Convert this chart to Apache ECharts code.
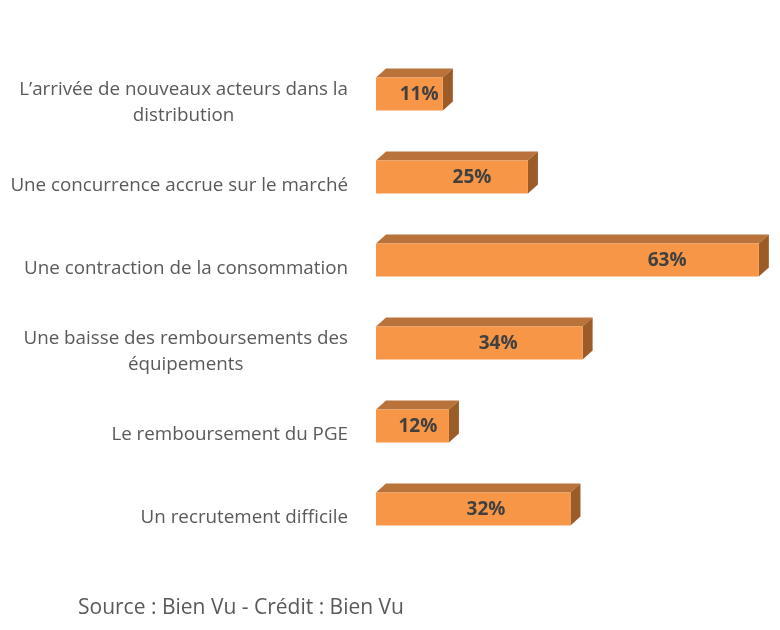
<!DOCTYPE html>
<html><head><meta charset="utf-8">
<script src="https://cdn.jsdelivr.net/npm/echarts@6/dist/echarts.min.js"></script>
<style>html,body{margin:0;padding:0;background:#fff}#c{width:780px;height:630px}</style>
</head><body><div id="c"></div>
<script>
const categories = [
  "L’arrivée de nouveaux acteurs dans la\ndistribution",
  "Une concurrence accrue sur le marché",
  "Une contraction de la consommation",
  "Une baisse des remboursements des\néquipements",
  "Le remboursement du PGE",
  "Un recrutement difficile"
];
const values = [11, 25, 63, 34, 12, 32];
// where each value label sits along the value axis (in % units)
const labelAt = [7.1, 15.8, 47.9, 20.1, 6.9, 18.1];
const sourceText = "Source : Bien Vu - Crédit : Bien Vu";

const FONT = "Open Sans";
const chart = echarts.init(document.getElementById('c'), null, {renderer: 'canvas'});
chart.setOption({
  backgroundColor: '#fff',
  animation: false,
  grid: {left: 376, right: 9, top: 61, bottom: 71},
  xAxis: {type: 'value', min: 0, max: 65, show: false},
  yAxis: {
    type: 'category', inverse: true, data: categories,
    axisLine: {show: false}, axisTick: {show: false}, splitLine: {show: false},
    axisLabel: {
      margin: 28, align: 'right', color: '#595959', fontFamily: FONT, fontSize: 18.8,
      lineHeight: 26,
      formatter: v => v.split('\n').map(s => '{c|' + s + '}').join('\n'),
      rich: {c: {align: 'center', color: '#595959', fontFamily: FONT, fontSize: 18.8, lineHeight: 26}}
    }
  },
  series: [{
    type: 'custom',
    data: values.map((v, i) => [i, v, labelAt[i]]),
    encode: {x: 1, y: 0},
    renderItem: function (params, api) {
      const cat = api.value(0), v = api.value(1), la = api.value(2);
      const p0 = api.coord([0, cat]);
      const p1 = api.coord([v, cat]);
      const pl = api.coord([la, cat]);
      const h = 33, dx = 10, dy = 9;
      const yc = p0[1] - 8.5;
      const x0 = p0[0], x1 = p1[0], yt = yc - h / 2, yb = yc + h / 2;
      return {type: 'group', children: [
        {type: 'polygon', shape: {points: [[x0, yt], [x1, yt], [x1 + dx, yt - dy], [x0 + dx, yt - dy]]}, style: {fill: '#B9733A'}},
        {type: 'polygon', shape: {points: [[x1, yt], [x1 + dx, yt - dy], [x1 + dx, yb - dy], [x1, yb]]}, style: {fill: '#9B5C28'}},
        {type: 'rect', shape: {x: x0, y: yt, width: x1 - x0, height: h}, style: {fill: '#F79646'}},
        {type: 'text', style: {text: v + '%', x: pl[0], y: yc + 1, align: 'center', verticalAlign: 'middle',
          fill: '#404040', fontFamily: FONT, fontWeight: 'bold', fontSize: 19}}
      ]};
    }
  }],
  graphic: [{
    type: 'text', left: 78, top: 598,
    style: {text: sourceText, fill: '#595959', fontFamily: FONT, fontSize: 21}
  }]
});
</script></body></html>
